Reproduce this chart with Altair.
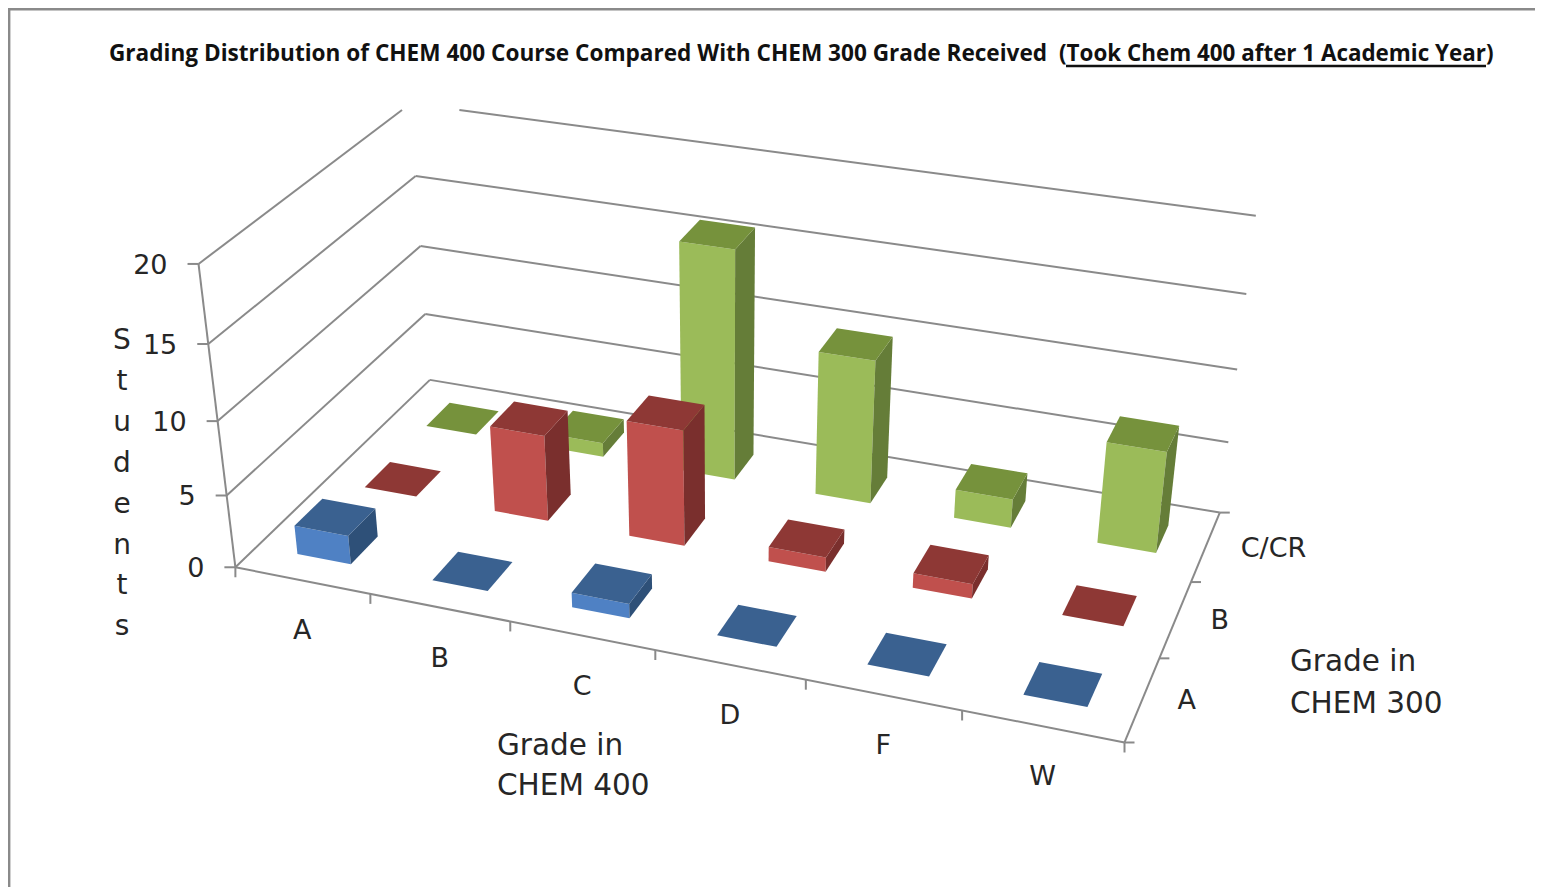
import numpy as np
import pandas as pd
import altair as alt

chem400 = ["A", "B", "C", "D", "F", "W"]
chem300 = ["A", "B", "C/CR"]
students_a = [2, 0, 1, 0, 0, 0]
students_b = [0, 6, 8, 1, 1, 0]
students_c = [0, 1, 16, 10, 2, 7]
z_ticks = [0, 5, 10, 15, 20]

series = [students_a, students_b, students_c]
front_colors = ["#4F81C4", "#C0504D", "#9BBB59"]
top_colors = ["#3A6190", "#8E3835", "#76923C"]
side_colors = ["#2E5078", "#7A2F2D", "#657D38"]

# camera calibration of the 3-D box (category, series, value) -> page pixel
anchors = [
    (0,0,0,235,567),(0,0,5,227,497),(0,0,10,218,420),(0,0,15,209,343),(0,0,20,198,264),
    (0,3,0,430,379),(0,3,5,425,314),(0,3,10,421,247),(0,3,15,415,176),
    (6,3,0,1219,513),(6,3,5,1228,442),(6,3,10,1238,370),(6,3,15,1247,295),(6,3,20,1255,215),
    (6,0,0,1123,742),(1,0,0,370,595),(2,0,0,511,621),(3,0,0,655,648),(4,0,0,805,682),(5,0,0,963,712),
    (6,1,0,1160,657),(6,2,0,1192,581),
]
rows = []
for u, v, w, x, y in anchors:
    rows.append([u, v, w, 1, 0, 0, 0, 0, -x*u, -x*v, -x*w, -x])
    rows.append([0, 0, 0, 0, u, v, w, 1, -y*u, -y*v, -y*w, -y])
cam = np.linalg.svd(np.array(rows, float))[2][-1].reshape(3, 4)

def P(u, v, w):
    h = cam @ np.array([u, v, w, 1.0])
    return float(h[0]/h[2]), float(h[1]/h[2])

W, H = 1527, 879
CLIP_Y = 110
lines = []
def add_line(name, pts, clip=False):
    if clip:
        (x0, y0), (x1, y1) = pts
        if y0 < CLIP_Y:
            t = (CLIP_Y-y0)/(y1-y0); x0, y0 = x0+t*(x1-x0), CLIP_Y
        if y1 < CLIP_Y:
            t = (CLIP_Y-y0)/(y1-y0); x1, y1 = x0+t*(x1-x0), CLIP_Y
        pts = [(x0, y0), (x1, y1)]
    for k, (x, y) in enumerate(pts):
        lines.append(dict(id=name, k=k, x=x, y=y))

for z in z_ticks:
    add_line(f"wall{z}", [P(0, 0, z), P(0, 3, z)], True)
    add_line(f"back{z}", [P(0, 3, z), P(6, 3, z)], True)
    x, y = P(0, 0, z)
    add_line(f"ztick{z}", [(x-11, y), (x, y)])
add_line("zaxis", [P(0, 0, 0), P(0, 0, 20)])
add_line("front", [P(0, 0, 0), P(6, 0, 0)])
add_line("right", [P(6, 0, 0), P(6, 3, 0)])
for i in range(7):
    x, y = P(i, 0, 0)
    add_line(f"xtick{i}", [(x, y), (x, y+10)])
for j in range(4):
    x, y = P(6, j, 0)
    add_line(f"ytick{j}", [(x, y), (x+10, y)])

faces = []
def add_face(name, color, pts):
    for k, (x, y) in enumerate(pts):
        faces.append(dict(id=name, k=k, x=x, y=y, c=color))

U0, U1 = 0.305, 0.705
V0, V1 = 0.30, 0.70
for j in (2, 1, 0):
    for i, val in enumerate(series[j]):
        a0, a1, b0, b1 = i+U0, i+U1, j+V0, j+V1
        if val > 0:
            add_face(f"f{j}{i}", front_colors[j], [P(a0,b0,0),P(a1,b0,0),P(a1,b0,val),P(a0,b0,val)])
            add_face(f"s{j}{i}", side_colors[j], [P(a1,b0,0),P(a1,b1,0),P(a1,b1,val),P(a1,b0,val)])
        add_face(f"t{j}{i}", top_colors[j], [P(a0,b0,val),P(a1,b0,val),P(a1,b1,val),P(a0,b1,val)])

labels = []
for i, s in enumerate(chem400):
    x, y = P(i+0.5, 0, 0)
    labels.append(dict(x=x, y=y+51, t=s, a="center"))
for j, s in enumerate(chem300):
    x, y = P(6, j+0.5, 0)
    labels.append(dict(x=x+35, y=y+2, t=s, a="left"))
for z in z_ticks:
    x, y = P(0, 0, z)
    labels.append(dict(x=x-31, y=y+2, t=str(z), a="right"))
lab = pd.DataFrame(labels)

xs = alt.Scale(domain=[8, 8+W], range=[0, W])
ys = alt.Scale(domain=[8, 8+H], range=[0, H])
X = alt.X("x:Q", scale=xs, axis=None)
Y = alt.Y("y:Q", scale=ys, axis=None)

grid = alt.Chart(pd.DataFrame(lines)).mark_line(color="#8A8A8A", strokeWidth=2).encode(
    X, Y, detail="id:N", order="k:Q")
bars = alt.Chart(pd.DataFrame(faces)).mark_line(strokeWidth=0).encode(
    X, Y, detail="id:N", order="k:Q", fill=alt.Fill("c:N", scale=None))
border = alt.Chart(pd.DataFrame([
    dict(id="l", k=0, x=9.2, y=H+8), dict(id="l", k=1, x=9.2, y=9.2), dict(id="l", k=2, x=W+8, y=9.2)
])).mark_line(color="#8A8A8A", strokeWidth=2.4).encode(X, Y, detail="id:N", order="k:Q")

FONT = "DejaVu Sans"
tick_text = []
for a in ("center", "left", "right"):
    tick_text.append(alt.Chart(lab[lab.a == a]).mark_text(
        font=FONT, fontSize=27, align=a, baseline="middle", color="#262626").encode(X, Y, text="t:N"))

def one(x, y, **kw):
    return alt.Chart(pd.DataFrame([dict(x=x, y=y)])).mark_text(**kw).encode(X, Y)

title = one(109, 54, text="Grading Distribution of CHEM 400 Course Compared With CHEM 300 Grade Received",
            font="Open Sans", fontWeight="bold", fontSize=22.6, align="left", baseline="middle", color="#111111")
title2 = one(1059, 54, text="(Took Chem 400 after 1 Academic Year)",
             font="Open Sans", fontWeight="bold", fontSize=22.4, align="left", baseline="middle", color="#111111")
underline = alt.Chart(pd.DataFrame([dict(id="u", k=0, x=1066, y=66), dict(id="u", k=1, x=1486, y=66)])).mark_line(
    color="#111111", strokeWidth=2.5).encode(X, Y, detail="id:N", order="k:Q")
students = one(122, 341, text=list("Students"), font=FONT, fontSize=28, lineHeight=40.9,
               align="center", baseline="middle", color="#262626")
t400 = one(497, 746, text=["Grade in", "CHEM 400"], font=FONT, fontSize=29.5, lineHeight=40,
           align="left", baseline="middle", color="#262626")
t300 = one(1290, 662, text=["Grade in", "CHEM 300"], font=FONT, fontSize=29.5, lineHeight=42,
           align="left", baseline="middle", color="#262626")

chart = alt.layer(border, grid, bars, *tick_text, title, title2, underline, students, t400, t300).properties(
    width=W, height=H, padding=0, autosize=alt.AutoSizeParams(type="none")
).configure_view(stroke=None)

chart.save("out.html", embed_options={"renderer": "svg", "actions": False})
